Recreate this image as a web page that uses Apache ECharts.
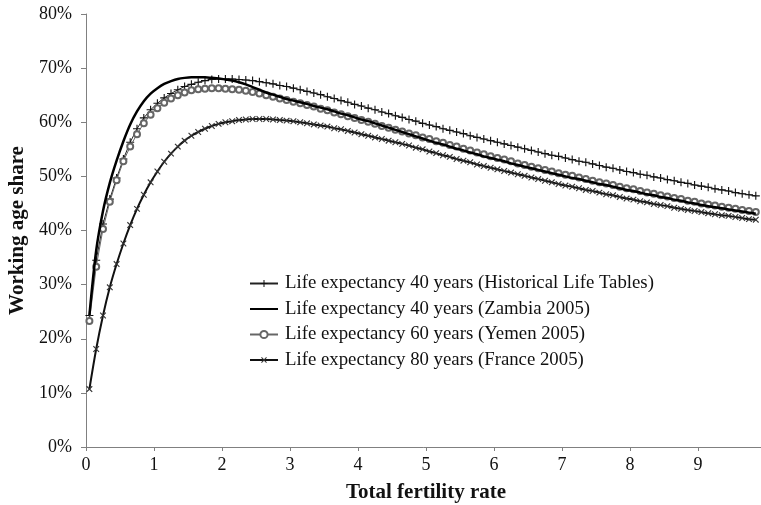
<!DOCTYPE html>
<html>
<head>
<meta charset="utf-8">
<script src="https://cdn.jsdelivr.net/npm/echarts@6/dist/echarts.min.js"></script>
<style>
  html, body { margin: 0; padding: 0; background: #fff; }
  #chart { width: 761px; height: 505px; }
</style>
</head>
<body>
<div id="chart"></div>
<script>
// total fertility rate (x)
var tfr = [
  0.05, 0.15, 0.25, 0.35, 0.45, 0.55, 0.65, 0.75, 0.85, 0.95,
  1.05, 1.15, 1.25, 1.35, 1.45, 1.55, 1.65, 1.75, 1.85, 1.95,
  2.05, 2.15, 2.25, 2.35, 2.45, 2.55, 2.65, 2.75, 2.85, 2.95,
  3.05, 3.15, 3.25, 3.35, 3.45, 3.55, 3.65, 3.75, 3.85, 3.95,
  4.05, 4.15, 4.25, 4.35, 4.45, 4.55, 4.65, 4.75, 4.85, 4.95,
  5.05, 5.15, 5.25, 5.35, 5.45, 5.55, 5.65, 5.75, 5.85, 5.95,
  6.05, 6.15, 6.25, 6.35, 6.45, 6.55, 6.65, 6.75, 6.85, 6.95,
  7.05, 7.15, 7.25, 7.35, 7.45, 7.55, 7.65, 7.75, 7.85, 7.95,
  8.05, 8.15, 8.25, 8.35, 8.45, 8.55, 8.65, 8.75, 8.85, 8.95,
  9.05, 9.15, 9.25, 9.35, 9.45, 9.55, 9.65, 9.75, 9.85
];

// working age share, %
var le40Historical = [
  24.3, 34.5, 41.2, 45.8, 49.7, 53.2, 56.3, 58.8, 60.8, 62.3,
  63.5, 64.5, 65.3, 66.0, 66.6, 67.0, 67.4, 67.7, 67.9, 68.0,
  68.0, 68.0, 67.9, 67.8, 67.7, 67.5, 67.3, 67.1, 66.8, 66.6,
  66.3, 66.0, 65.7, 65.4, 65.1, 64.7, 64.4, 64.0, 63.7, 63.3,
  63.0, 62.6, 62.3, 61.9, 61.6, 61.2, 60.9, 60.5, 60.2, 59.8,
  59.5, 59.2, 58.8, 58.5, 58.2, 57.9, 57.5, 57.2, 56.9, 56.6,
  56.3, 56.0, 55.7, 55.4, 55.1, 54.8, 54.5, 54.2, 53.9, 53.7,
  53.4, 53.1, 52.8, 52.6, 52.3, 52.0, 51.7, 51.5, 51.2, 50.9,
  50.7, 50.4, 50.2, 49.9, 49.7, 49.4, 49.2, 48.9, 48.7, 48.4,
  48.2, 48.0, 47.7, 47.5, 47.3, 47.0, 46.8, 46.6, 46.4
];

var le40Zambia = [
  24.3, 36.3, 43.6, 48.8, 52.9, 56.5, 59.6, 62.0, 63.9, 65.3,
  66.3, 67.1, 67.6, 68.0, 68.2, 68.3, 68.3, 68.3, 68.2, 68.1,
  67.9, 67.7, 67.4, 67.0, 66.5, 66.0, 65.5, 65.1, 64.7, 64.3,
  64.0, 63.7, 63.4, 63.0, 62.7, 62.4, 62.0, 61.6, 61.3, 60.9,
  60.5, 60.2, 59.8, 59.4, 59.0, 58.6, 58.2, 57.8, 57.4, 57.0,
  56.6, 56.2, 55.9, 55.5, 55.1, 54.8, 54.4, 54.1, 53.7, 53.4,
  53.1, 52.8, 52.4, 52.1, 51.8, 51.5, 51.2, 50.9, 50.6, 50.3,
  50.0, 49.7, 49.5, 49.2, 48.9, 48.6, 48.4, 48.1, 47.8, 47.5,
  47.3, 47.0, 46.7, 46.5, 46.2, 46.0, 45.7, 45.5, 45.2, 45.0,
  44.7, 44.5, 44.3, 44.1, 43.9, 43.7, 43.5, 43.3, 43.1
];

var le60Yemen = [
  23.3, 33.3, 40.3, 45.3, 49.3, 52.8, 55.5, 57.8, 59.8, 61.4,
  62.6, 63.6, 64.4, 65.0, 65.5, 65.9, 66.1, 66.2, 66.3, 66.3,
  66.2, 66.1, 66.0, 65.8, 65.6, 65.3, 65.0, 64.7, 64.4, 64.1,
  63.8, 63.5, 63.2, 62.9, 62.5, 62.2, 61.8, 61.5, 61.1, 60.8,
  60.4, 60.1, 59.7, 59.3, 59.0, 58.6, 58.3, 57.9, 57.6, 57.2,
  56.9, 56.5, 56.2, 55.8, 55.5, 55.1, 54.8, 54.4, 54.1, 53.7,
  53.4, 53.1, 52.8, 52.4, 52.1, 51.8, 51.5, 51.2, 50.9, 50.6,
  50.3, 50.1, 49.8, 49.5, 49.2, 48.9, 48.7, 48.4, 48.1, 47.8,
  47.6, 47.3, 47.0, 46.8, 46.5, 46.3, 46.0, 45.8, 45.5, 45.3,
  45.0, 44.8, 44.6, 44.4, 44.2, 44.0, 43.8, 43.6, 43.4
];

var le80France = [
  10.7, 18.1, 24.3, 29.5, 33.8, 37.6, 41.0, 44.0, 46.6, 48.9,
  50.9, 52.7, 54.2, 55.5, 56.6, 57.5, 58.2, 58.8, 59.3, 59.7,
  60.0, 60.2, 60.4, 60.5, 60.6, 60.6, 60.6, 60.5, 60.4, 60.3,
  60.2, 60.0, 59.8, 59.6, 59.4, 59.2, 58.9, 58.7, 58.4, 58.1,
  57.8, 57.5, 57.2, 56.9, 56.6, 56.3, 56.0, 55.7, 55.3, 55.0,
  54.6, 54.3, 53.9, 53.6, 53.2, 52.9, 52.6, 52.2, 51.9, 51.6,
  51.3, 51.0, 50.7, 50.4, 50.1, 49.8, 49.5, 49.2, 48.9, 48.6,
  48.3, 48.1, 47.8, 47.5, 47.3, 47.0, 46.7, 46.5, 46.2, 45.9,
  45.7, 45.4, 45.2, 44.9, 44.7, 44.5, 44.2, 44.0, 43.8, 43.6,
  43.4, 43.2, 43.0, 42.8, 42.7, 42.5, 42.3, 42.1, 42.0
];

var seriesNames = [
  "Life expectancy 40 years (Historical Life Tables)",
  "Life expectancy 40 years (Zambia 2005)",
  "Life expectancy 60 years (Yemen 2005)",
  "Life expectancy 80 years (France 2005)"
];

function pairs(ys) {
  return ys.map(function (y, i) { return [tfr[i], y]; });
}

var plusPath = "path://M4.3,0H5.7V4.3H10V5.7H5.7V10H4.3V5.7H0V4.3H4.3Z";
var serif = "Liberation Serif";

var chart = echarts.init(document.getElementById("chart"));
chart.setOption({
  animation: false,
  backgroundColor: "#fff",
  grid: { left: 86, right: -5, top: 14, bottom: 58, outerBoundsMode: "none", containLabel: false },
  legend: {
    orient: "vertical",
    left: 249,
    top: 274,
    padding: 0,
    itemWidth: 28,
    itemHeight: 9,
    itemGap: 6.5,
    textStyle: { fontFamily: serif, fontSize: 18.8, color: "#111", padding: [0, 0, 0, 2] },
    data: [
      seriesNames[0],
      { name: seriesNames[1], itemStyle: { opacity: 0 } },
      seriesNames[2],
      seriesNames[3]
    ]
  },
  xAxis: {
    type: "value",
    min: 0,
    max: 10,
    interval: 1,
    name: "Total fertility rate",
    nameLocation: "middle",
    nameGap: 35,
    nameTextStyle: { fontFamily: serif, fontSize: 21, fontWeight: "bold", color: "#111" },
    axisLine: { lineStyle: { color: "#808080", width: 1 } },
    axisTick: { inside: false, length: 4, lineStyle: { color: "#808080" } },
    axisLabel: {
      fontFamily: serif, fontSize: 18, color: "#111", margin: 9,
      formatter: function (v) { return v >= 10 ? "" : String(v); }
    },
    splitLine: { show: false }
  },
  yAxis: {
    type: "value",
    min: 0,
    max: 80,
    interval: 10,
    name: "Working age share",
    nameLocation: "middle",
    nameGap: 58,
    nameTextStyle: { fontFamily: serif, fontSize: 21, fontWeight: "bold", color: "#111" },
    axisLine: { show: true, lineStyle: { color: "#808080", width: 1 } },
    axisTick: { show: true, inside: false, length: 5, lineStyle: { color: "#808080" } },
    axisLabel: {
      fontFamily: serif, fontSize: 18, color: "#111", margin: 14,
      formatter: "{value}%"
    },
    splitLine: { show: false }
  },
  series: [
    {
      name: seriesNames[0],
      type: "line",
      data: pairs(le40Historical),
      symbol: plusPath,
      symbolSize: 8,
      showAllSymbol: true,
      lineStyle: { color: "#222", width: 1 },
      itemStyle: { color: "#111" },
      z: 3
    },
    {
      name: seriesNames[1],
      type: "line",
      data: pairs(le40Zambia),
      symbol: "none",
      smooth: 0.3,
      lineStyle: { color: "#000", width: 2.5 },
      itemStyle: { color: "#000" },
      z: 5
    },
    {
      name: seriesNames[2],
      type: "line",
      data: pairs(le60Yemen),
      symbol: "emptyCircle",
      symbolSize: 6,
      showAllSymbol: true,
      lineStyle: { color: "#666", width: 1 },
      itemStyle: { color: "#666", borderWidth: 1 },
      z: 4
    },
    {
      name: seriesNames[3],
      type: "line",
      data: pairs(le80France),
      symbol: plusPath,
      symbolRotate: 45,
      symbolSize: 8,
      showAllSymbol: true,
      smooth: 0.3,
      lineStyle: { color: "#111", width: 2 },
      itemStyle: { color: "#333" },
      z: 6
    }
  ]
});
</script>
</body>
</html>
